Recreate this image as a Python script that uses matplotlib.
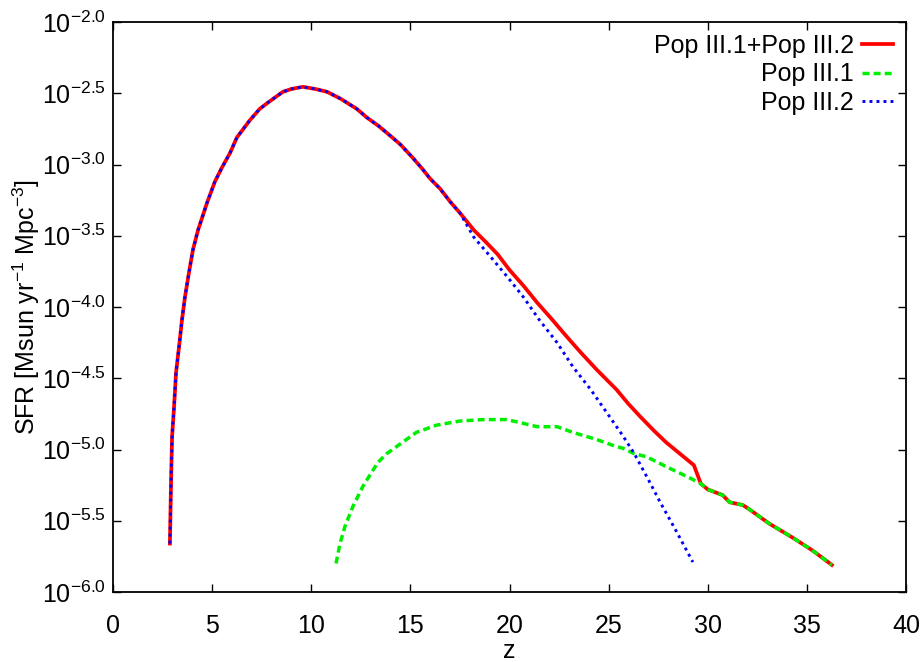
import matplotlib
matplotlib.use("Agg")
import matplotlib.pyplot as plt
from matplotlib.ticker import FuncFormatter, MultipleLocator

plt.rcParams['font.family'] = ['Liberation Sans', 'DejaVu Sans']
plt.rcParams['mathtext.fontset'] = 'custom'
plt.rcParams['mathtext.rm'] = 'Liberation Sans'
plt.rcParams['mathtext.it'] = 'Liberation Sans:italic'
plt.rcParams['mathtext.bf'] = 'Liberation Sans:bold'

# redshift and log10(SFR) for each population
z_total = [2.87, 2.93, 2.98, 3.08, 3.18, 3.33, 3.48, 3.63, 3.83, 4.03, 4.29, 4.74,
           5.14, 5.5, 5.9, 6.25, 6.9, 7.4, 7.77, 8.57, 9.0, 9.58, 10.2, 10.8, 11.5,
           12.3, 12.8, 13.4, 14.0, 14.5, 15.1, 15.6, 16.0, 16.5, 17.0, 17.5, 18.2,
           18.85, 19.4, 20.0, 20.7, 21.4, 22.1, 22.9, 23.6, 24.4, 25.4, 26.0, 26.6,
           27.3, 27.9, 28.6, 29.3, 29.65, 30.0, 30.75, 31.1, 31.77, 32.1, 33.1,
           34.3, 35.3, 36.26]
sfr_total = [-5.66, -5.21, -4.91, -4.70, -4.46, -4.28, -4.09, -3.93, -3.76, -3.60,
             -3.46, -3.27, -3.12, -3.02, -2.92, -2.81, -2.69, -2.61, -2.57, -2.49,
             -2.47, -2.455, -2.47, -2.49, -2.54, -2.61, -2.67, -2.73, -2.80, -2.86,
             -2.95, -3.03, -3.10, -3.17, -3.26, -3.34, -3.46, -3.55, -3.63, -3.74,
             -3.85, -3.97, -4.08, -4.21, -4.32, -4.44, -4.58, -4.68, -4.77, -4.87,
             -4.95, -5.03, -5.11, -5.24, -5.28, -5.32, -5.37, -5.39, -5.42, -5.52,
             -5.62, -5.71, -5.81]

z_pop1 = [11.25, 11.45, 11.7, 12.1, 12.6, 13.0, 13.37, 13.8, 14.3, 15.3, 16.3, 17.5,
          18.7, 19.85, 20.5, 21.4, 22.4, 23.2, 24.4, 25.4, 25.7, 26.3, 26.9, 27.9,
          29.1, 29.65, 30.0, 30.75, 31.1, 31.77, 32.1, 33.1, 34.3, 35.3, 36.26]
sfr_pop1 = [-5.80, -5.66, -5.54, -5.40, -5.26, -5.17, -5.09, -5.03, -4.98, -4.88,
            -4.83, -4.80, -4.79, -4.79, -4.81, -4.84, -4.84, -4.88, -4.93, -4.98,
            -4.99, -5.03, -5.05, -5.12, -5.20, -5.24, -5.28, -5.32, -5.37, -5.39,
            -5.42, -5.52, -5.62, -5.71, -5.81]

z_pop2 = [2.87, 2.93, 2.98, 3.08, 3.18, 3.33, 3.48, 3.63, 3.83, 4.03, 4.29, 4.74,
          5.14, 5.5, 5.9, 6.25, 6.9, 7.4, 7.77, 8.57, 9.0, 9.58, 10.2, 10.8, 11.5,
          12.3, 12.8, 13.4, 14.0, 14.5, 15.1, 15.6, 16.0, 16.5, 17.0, 17.5, 18.2,
          19.0, 19.9, 20.7, 21.5, 22.4, 23.2, 24.1, 24.9, 25.7, 26.3, 27.0, 27.6,
          28.4, 29.25]
sfr_pop2 = [-5.66, -5.21, -4.91, -4.70, -4.46, -4.28, -4.09, -3.93, -3.76, -3.60,
            -3.46, -3.27, -3.12, -3.02, -2.92, -2.81, -2.69, -2.61, -2.57, -2.49,
            -2.47, -2.455, -2.47, -2.49, -2.54, -2.61, -2.67, -2.73, -2.80, -2.86,
            -2.95, -3.03, -3.10, -3.17, -3.26, -3.34, -3.51, -3.64, -3.79, -3.93,
            -4.09, -4.25, -4.42, -4.58, -4.74, -4.90, -5.03, -5.21, -5.37, -5.57,
            -5.79]

labels = ['Pop III.1+Pop III.2', 'Pop III.1', 'Pop III.2']

fig = plt.figure(figsize=(9.22, 6.62), dpi=100)
ax = fig.add_axes([113/922, 1 - 592/662, 793/922, 570/662])

ax.plot(z_total, sfr_total, color='#ff0000', lw=2.7, ls='-', label=labels[0])
ax.plot(z_pop1, sfr_pop1, color='#00ee00', lw=2.5, ls=(0, (2.0, 1.2)), label=labels[1])
ax.plot(z_pop2, sfr_pop2, color='#0000ff', lw=2.1, ls=(0, (1.0, 1.4)), label=labels[2])

ax.set_xlim(0, 40)
ax.set_ylim(-6, -2)
ax.xaxis.set_major_locator(MultipleLocator(5))
ax.yaxis.set_major_locator(MultipleLocator(0.5))
ax.yaxis.set_major_formatter(FuncFormatter(lambda v, p: r'$10^{%.1f}$' % v))

ax.tick_params(direction='in', length=6, width=1, top=True, right=True,
               labelsize=18)
ax.tick_params(axis='x', pad=16)
ax.tick_params(axis='y', pad=5)
for s in ax.spines.values():
    s.set_linewidth(1.3)

ax.set_xlabel('z', fontsize=18)
ax.xaxis.set_label_coords(0.5, -0.083)
ax.set_ylabel(r'SFR [Msun yr$^{-1}$ Mpc$^{-3}$]', fontsize=18)
ax.yaxis.set_label_coords(-0.09, 0.5)

ax.legend(loc='upper right', bbox_to_anchor=(0.9836, 0.979), frameon=False,
          markerfirst=False, fontsize=18, handlelength=1.25, handletextpad=0.3,
          labelspacing=0.18, borderpad=0, borderaxespad=0)

fig.savefig('out.png', dpi=100)
